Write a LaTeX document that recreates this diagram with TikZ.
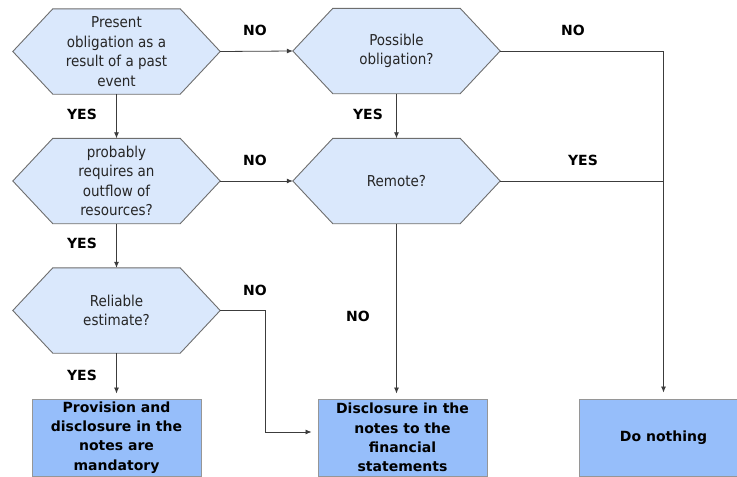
\documentclass[tikz,border=0pt]{standalone}
\usepackage{fontspec}
\setmainfont{DejaVu Sans}
\newfontfamily\hexfont{DejaVu Sans Condensed}
\usetikzlibrary{arrows.meta,backgrounds}
\definecolor{hexfill}{RGB}{218,232,252}
\definecolor{hexdraw}{RGB}{110,110,110}
\definecolor{boxfill}{RGB}{150,190,250}
\definecolor{boxdraw}{RGB}{150,150,150}
\definecolor{linecol}{RGB}{60,60,60}
\tikzset{
  hexnode/.style={rectangle, minimum width=207pt, minimum height=85pt, inner sep=0pt,
    align=center, font=\hexfont\fontsize{15}{19.5}\selectfont, text=black!85},
  hexshape/.style={fill=hexfill, draw=hexdraw, line width=0.9pt, line join=miter},
  resbox/.style={rectangle, minimum width=169pt, minimum height=77pt, inner sep=0pt,
    fill=boxfill, draw=boxdraw, line width=0.9pt, align=center,
    font=\bfseries\fontsize{14}{19.3}\selectfont},
  conn/.style={draw=linecol, line width=0.8pt},
  arr/.style={conn, -{Latex[length=6pt,width=5pt]}},
  lbl/.style={font=\bfseries\fontsize{14}{17}\selectfont, inner sep=0pt}
}
\begin{document}
\begin{tikzpicture}[x=1pt,y=-1pt]
\useasboundingbox (0,0) rectangle (737,477);
\clip (0,0) rectangle (737,477);
% decision nodes
\node[hexnode] (h1) at (116.5,51.5) {Present\\obligation as a\\result of a past\\event};
\node[hexnode] (h2) at (116.5,181) {probably\\requires an\\outflow of\\resources?};
\node[hexnode] (h3) at (116.5,310.5) {Reliable\\estimate?};
\node[hexnode] (h4) at (396.5,51) {Possible\\obligation?};
\node[hexnode] (h5) at (396.5,181) {Remote?};
\begin{scope}[on background layer]
\foreach \n in {h1,h2,h3,h4,h5}{
  \path[hexshape] (\n.west) -- ([xshift=40pt]\n.north west) -- ([xshift=-40pt]\n.north east)
    -- (\n.east) -- ([xshift=-40pt]\n.south east) -- ([xshift=40pt]\n.south west) -- cycle;
}
\end{scope}
% result boxes
\node[resbox] (b1) at (116.5,437.5) {Provision and\\disclosure in the\\notes are\\mandatory};
\node[resbox] (b2) at (402.5,437.5) {Disclosure in the\\notes to the\\financial\\statements};
\node[resbox] (b3) at (663.5,437.5) {Do nothing};
% connectors
\draw[arr] (h1.east) -- (h4.west);
\draw[arr] (h2.east) -- (h5.west);
\draw[arr] (h1.south) -- (h2.north);
\draw[arr] (h2.south) -- (h3.north);
\draw[arr] (h4.south) -- (h5.north);
\draw[arr, shorten >=5pt] (h3.south) -- (b1.north);
\draw[arr, shorten >=5pt] (h5.south) -- (h5.south |- b2.north);
\coordinate (bend) at (265.5,432);
\draw[arr, shorten >=6pt] (h3.east) -| (bend) -- (bend -| b2.west);
\draw[arr, shorten >=6pt] (h4.east) -| (b3.north);
\draw[conn] (h5.east) -- (h5.east -| b3.north);
% labels
\node[lbl] (l1) at (255,30) {NO};
\node[lbl] (l2) at (82,114) {YES};
\node[lbl] (l3) at (255,160) {NO};
\node[lbl] (l4) at (82,243) {YES};
\node[lbl] (l5) at (255,290) {NO};
\node[lbl] (l6) at (82,375) {YES};
\node[lbl] (l7) at (358,316) {NO};
\node[lbl] (l8) at (368,114) {YES};
\node[lbl] (l9) at (573,30) {NO};
\node[lbl] (l10) at (583,160) {YES};
\end{tikzpicture}
\end{document}
